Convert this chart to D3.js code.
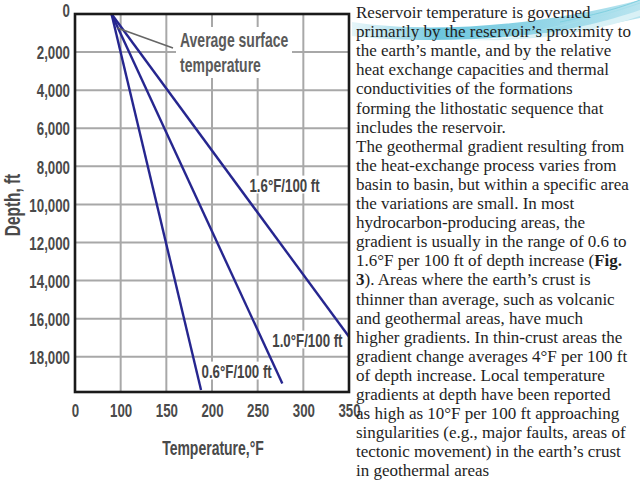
<!DOCTYPE html>
<html>
<head>
<meta charset="utf-8">
<script src="https://cdn.jsdelivr.net/npm/d3@7"></script>
<style>
  html, body { margin: 0; padding: 0; background: #fff; }
  svg { display: block; }
</style>
</head>
<body>
<svg id="chart" width="640" height="480"></svg>
<script>
// ---------- DATA ----------
const seriesNames = ["0.6°F/100 ft", "1.0°F/100 ft", "1.6°F/100 ft"];
const surfaceTemp = 90;          // °F at depth 0
const endTemps = [188, 277, 350]; // °F at end of each line
const endDepths = [19750, 19400, 16950]; // ft at end of each line
const xTickValues = [50, 100, 150, 200, 250, 300, 350];
const xTickLabels = ["0", "100", "150", "200", "250", "300", "350"];
const yTickValues = [0, 2000, 4000, 6000, 8000, 10000, 12000, 14000, 16000, 18000];
const yTickLabels = ["0", "2,000", "4,000", "6,000", "8,000", "10,000", "12,000", "14,000", "16,000", "18,000"];
const annotation = ["Average surface", "temperature"];
const xTitle = "Temperature,°F";
const yTitle = "Depth, ft";
const paragraph = [
  "Reservoir temperature is governed",
  "primarily by the reservoir’s proximity to",
  "the earth’s mantle, and by the relative",
  "heat exchange capacities and thermal",
  "conductivities of the formations",
  "forming the lithostatic sequence that",
  "includes the reservoir.",
  "The geothermal gradient resulting from",
  "the heat-exchange process varies from",
  "basin to basin, but within a specific area",
  "the variations are small. In most",
  "hydrocarbon-producing areas, the",
  "gradient is usually in the range of 0.6 to",
  "1.6°F per 100 ft of depth increase (**Fig.**",
  "**3**). Areas where the earth’s crust is",
  "thinner than average, such as volcanic",
  "and geothermal areas, have much",
  "higher gradients. In thin-crust areas the",
  "gradient change averages 4°F per 100 ft",
  "of depth increase. Local temperature",
  "gradients at depth have been reported",
  "as high as 10°F per 100 ft approaching",
  "singularities (e.g., major faults, areas of",
  "tectonic movement) in the earth’s crust",
  "in geothermal areas"
];

// ---------- SETUP ----------
const svg = d3.select("#chart");
const sans = "'Liberation Sans', Arial, sans-serif";
const SX = 0.7; // horizontal condensing of the chart's grotesque type

const x = d3.scaleLinear().domain([50, 350]).range([75, 349]);
const y = d3.scaleLinear().domain([0, 19850]).range([14, 392]);

function condense(sel) {
  sel.each(function () {
    const t = d3.select(this);
    const xa = +t.attr("x") || 0, ya = +t.attr("y") || 0;
    t.attr("x", 0).attr("y", 0).attr("transform", `translate(${xa},${ya}) scale(${SX},1)`);
  });
}

// decorative swoosh (slide background)
const defs = svg.append("defs");
const g1 = defs.append("linearGradient").attr("id", "sw1").attr("x1", "0").attr("x2", "1");
g1.append("stop").attr("offset", "0").attr("stop-color", "#bfe6f0").attr("stop-opacity", 0.4);
g1.append("stop").attr("offset", "0.3").attr("stop-color", "#6cc6de");
g1.append("stop").attr("offset", "1").attr("stop-color", "#b8e4ef");
svg.append("path")
  .attr("d", "M352,22 C430,34 540,26 640,0 L640,18 C560,36 440,46 352,36 Z")
  .attr("fill", "url(#sw1)");
svg.append("path")
  .attr("d", "M470,40 C540,38 600,24 640,10 L640,16 C600,30 540,42 470,40 Z")
  .attr("fill", "#d9f1f6");
svg.append("path")
  .attr("d", "M560,22 C600,14 625,6 640,0")
  .attr("fill", "none").attr("stroke", "#7fd0e0").attr("stroke-width", 1);
svg.append("path")
  .attr("d", "M540,30 C590,20 620,10 640,3")
  .attr("fill", "none").attr("stroke", "#a5dfeb").attr("stroke-width", 1);

// ---------- GRID ----------
const grid = svg.append("g");
grid.selectAll("line.h").data(yTickValues.slice(1)).join("line")
  .attr("x1", x(50)).attr("x2", x(350))
  .attr("y1", d => y(d)).attr("y2", d => y(d))
  .attr("stroke", "#a8a8a8").attr("stroke-width", 2);
grid.selectAll("line.v").data(xTickValues.slice(1, -1)).join("line")
  .attr("y1", y(0)).attr("y2", y(19850))
  .attr("x1", d => x(d)).attr("x2", d => x(d))
  .attr("stroke", "#a8a8a8").attr("stroke-width", 2);

// white box behind annotation text (breaks the grid like the original)
svg.append("rect").attr("x", 176).attr("y", 27).attr("width", 116).attr("height", 51).attr("fill", "#fff");

// ---------- AXES (tick labels via d3.axis) ----------
const yAxis = d3.axisLeft(y).tickValues(yTickValues)
  .tickFormat((d, i) => yTickLabels[i]).tickSize(0).tickPadding(5);
const yg = svg.append("g").attr("transform", `translate(${x(50)},0)`).call(yAxis);
yg.select(".domain").remove();
yg.selectAll("text").attr("font-family", sans).attr("font-size", 19)
  .attr("font-weight", "bold").attr("fill", "#4a4a4a").attr("dy", "0.35em");
yg.selectAll(".tick").filter(d => d === 0).select("text").attr("dy", "0.15em");
condense(yg.selectAll("text"));

const xAxis = d3.axisBottom(x).tickValues(xTickValues)
  .tickFormat((d, i) => xTickLabels[i]).tickSize(0).tickPadding(11);
const xg = svg.append("g").attr("transform", `translate(0,${y(19850)})`).call(xAxis);
xg.select(".domain").remove();
xg.selectAll("text").attr("font-family", sans).attr("font-size", 19)
  .attr("font-weight", "bold").attr("fill", "#4a4a4a");
condense(xg.selectAll("text"));

// axis titles
svg.append("text").attr("transform", `translate(213,455) scale(${SX},1)`).attr("text-anchor", "middle")
  .attr("font-family", sans).attr("font-size", 20).attr("font-weight", "bold")
  .attr("fill", "#4a4a4a").text(xTitle);
svg.append("text").attr("transform", `translate(20,205) rotate(-90) scale(${SX},1)`).attr("text-anchor", "middle")
  .attr("font-family", sans).attr("font-size", 22).attr("font-weight", "bold")
  .attr("fill", "#4a4a4a").text(yTitle);

// line labels with white boxes (drawn under the lines)
const labelPos = [[x(188.5), 378], [x(266), 347], [x(241), 192]];
seriesNames.forEach((name, i) => {
  const g = svg.append("g").attr("transform", `translate(${labelPos[i][0]},${labelPos[i][1]}) scale(${SX},1)`);
  const t = g.append("text")
    .attr("font-family", sans).attr("font-size", 19).attr("font-weight", "bold")
    .attr("fill", "#444").text(name);
  const b = t.node().getBBox();
  g.insert("rect", "text").attr("x", b.x - 1).attr("y", b.y + 1)
    .attr("width", b.width + 2).attr("height", b.height - 3).attr("fill", "#fff");
});

// ---------- LINES ----------
const line = d3.line().x(d => x(d[0])).y(d => y(d[1]));
svg.selectAll("path.grad").data(seriesNames).join("path")
  .attr("class", "grad")
  .attr("d", (d, i) => line([[surfaceTemp, 0], [endTemps[i], endDepths[i]]]))
  .attr("fill", "none").attr("stroke", "#26268f").attr("stroke-width", 2.4);

// pointer line for annotation
svg.append("line").attr("x1", x(surfaceTemp) + 6).attr("y1", y(0) + 14)
  .attr("x2", 173).attr("y2", 48).attr("stroke", "#666").attr("stroke-width", 1.6);

// annotation text
svg.append("text").attr("transform", `translate(180,0) scale(${SX},1)`)
  .attr("font-family", sans).attr("font-size", 20)
  .attr("fill", "#5a5a5a").attr("font-weight", "bold")
  .selectAll("tspan").data(annotation).join("tspan")
  .attr("x", 0).attr("y", (d, i) => 47 + i * 25).text(d => d);

// frame
svg.append("rect").attr("x", x(50)).attr("y", y(0))
  .attr("width", x(350) - x(50)).attr("height", y(19850) - y(0))
  .attr("fill", "none").attr("stroke", "#1a1a1a").attr("stroke-width", 2.6);

// ---------- PARAGRAPH ----------
const para = svg.append("text").attr("font-family", "'Liberation Serif', 'DejaVu Serif', serif")
  .attr("font-size", 17).attr("fill", "#1e1e1e");
paragraph.forEach((ln, i) => {
  const segs = ln.split(/(\*\*[^*]+\*\*)/).filter(s => s.length);
  segs.forEach((seg, j) => {
    const bold = seg.startsWith("**");
    const s = para.append("tspan").text(bold ? seg.slice(2, -2) : seg);
    if (bold) s.attr("font-weight", "bold");
    if (j === 0) s.attr("x", 356).attr("y", 18 + i * 19.1);
  });
});
</script>
</body>
</html>
